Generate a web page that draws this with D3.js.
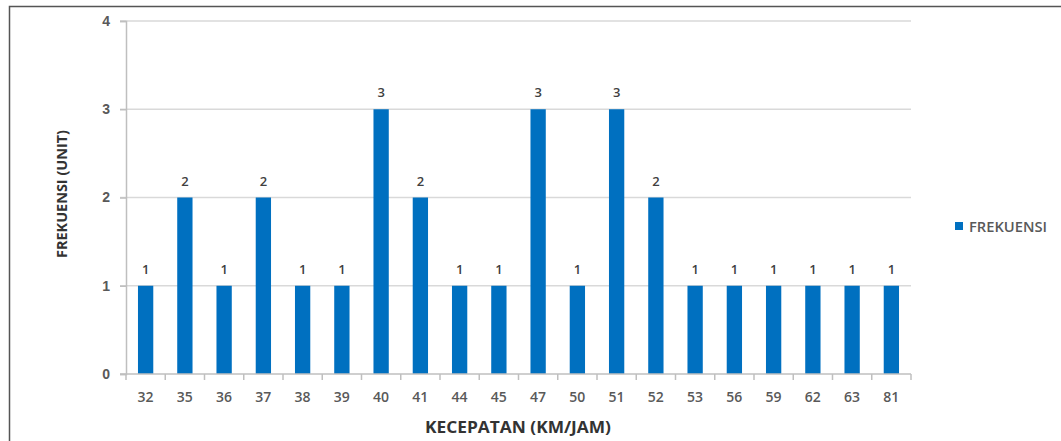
<!DOCTYPE html>
<html>
<head>
<meta charset="utf-8">
<script src="https://cdn.jsdelivr.net/npm/d3@7"></script>
<style>
  html, body { margin: 0; padding: 0; background: #fff; }
  svg { display: block; font-family: "Open Sans", "Liberation Sans", sans-serif; }
</style>
</head>
<body>
<svg id="chart" width="1061" height="441"></svg>
<script>
// Speed categories (km/h) and vehicle counts
const speeds = ["32","35","36","37","38","39","40","41","44","45","47","50","51","52","53","56","59","62","63","81"];
const counts = [1,2,1,2,1,1,3,2,1,1,3,1,3,2,1,1,1,1,1,1];
const yTicks = [0,1,2,3,4];
const seriesName = "FREKUENSI";
const xTitle = "KECEPATAN (KM/JAM)";
const yTitle = "FREKUENSI (UNIT)";

const svg = d3.select("#chart");
const W = 1061, H = 441;
const plot = { left: 126, right: 911, top: 21, bottom: 374 };
const barColor = "#0070C0";
const gridColor = "#d9d9d9";
const textColor = "#595959";

// Outer frame
svg.append("path")
  .attr("d", `M9.5,${H} V6.5 H${W}`)
  .attr("fill", "none").attr("stroke", "#555").attr("stroke-width", 1.5);

const x = d3.scaleBand().domain(speeds).range([plot.left, plot.right]).paddingInner(0.61).paddingOuter(0.305);
const y = d3.scaleLinear().domain([0, 4]).range([plot.bottom, plot.top]);

// Horizontal gridlines
svg.append("g").selectAll("line").data(yTicks.filter(d => d > 0)).join("line")
  .attr("x1", plot.left - 6).attr("x2", plot.right)
  .attr("y1", d => y(d)).attr("y2", d => y(d))
  .attr("stroke", gridColor).attr("stroke-width", 1.5);

// Y axis
const yAxis = svg.append("g").attr("transform", `translate(${plot.left},0)`)
  .call(d3.axisLeft(y).tickValues(yTicks).tickFormat(d3.format("d")).tickSize(6).tickPadding(10));
yAxis.select(".domain").attr("stroke", "#bfbfbf").attr("stroke-width", 1.5);
yAxis.selectAll(".tick line").attr("stroke", "#bfbfbf").attr("stroke-width", 1.5);
yAxis.selectAll("text").attr("fill", textColor).attr("font-size", 14).attr("font-weight", 600);

// Bars
svg.append("g").selectAll("rect").data(speeds).join("rect")
  .attr("x", (d) => x(d))
  .attr("width", x.bandwidth())
  .attr("y", (d, i) => y(counts[i]))
  .attr("height", (d, i) => y(0) - y(counts[i]))
  .attr("fill", barColor);

// X axis with tick marks between categories
const xAxis = svg.append("g").attr("transform", `translate(0,${plot.bottom})`);
xAxis.append("line").attr("x1", plot.left - 6).attr("x2", plot.right)
  .attr("stroke", "#bfbfbf").attr("stroke-width", 1.5);
const boundaries = d3.range(speeds.length + 1).map(i => plot.left + i * (plot.right - plot.left) / speeds.length);
xAxis.selectAll("line.tk").data(boundaries).join("line").attr("class", "tk")
  .attr("x1", d => d).attr("x2", d => d).attr("y1", 0).attr("y2", 6)
  .attr("stroke", "#bfbfbf").attr("stroke-width", 1.5);
xAxis.selectAll("text").data(speeds).join("text")
  .attr("x", d => x(d) + x.bandwidth() / 2)
  .attr("y", 28)
  .attr("text-anchor", "middle")
  .attr("fill", textColor).attr("font-size", 14).attr("font-weight", 600)
  .text(d => d);

// Value labels
svg.append("g").selectAll("text").data(speeds).join("text")
  .attr("x", d => x(d) + x.bandwidth() / 2)
  .attr("y", (d, i) => y(counts[i]) - 12)
  .attr("text-anchor", "middle")
  .attr("fill", "#404040").attr("font-size", 13).attr("font-weight", 600)
  .text((d, i) => counts[i]);

// Axis titles
svg.append("text")
  .attr("x", 518)
  .attr("y", 433)
  .attr("text-anchor", "middle")
  .attr("fill", "#333").attr("font-size", 16).attr("font-weight", 700)
  .attr("textLength", 186).attr("lengthAdjust", "spacingAndGlyphs")
  .text(xTitle);

svg.append("text")
  .attr("transform", `translate(67,194) rotate(-90)`)
  .attr("text-anchor", "middle")
  .attr("fill", "#333").attr("font-size", 13.5).attr("font-weight", 700)
  .attr("textLength", 128).attr("lengthAdjust", "spacingAndGlyphs")
  .text(yTitle);

// Legend
const legend = svg.append("g").attr("transform", "translate(955,222)");
legend.append("rect").attr("width", 8).attr("height", 8).attr("fill", barColor);
legend.append("text").attr("x", 14).attr("y", 9.5)
  .attr("fill", textColor).attr("font-size", 13.5).attr("font-weight", 600)
  .attr("textLength", 78).attr("lengthAdjust", "spacingAndGlyphs")
  .text(seriesName);
</script>
</body>
</html>
